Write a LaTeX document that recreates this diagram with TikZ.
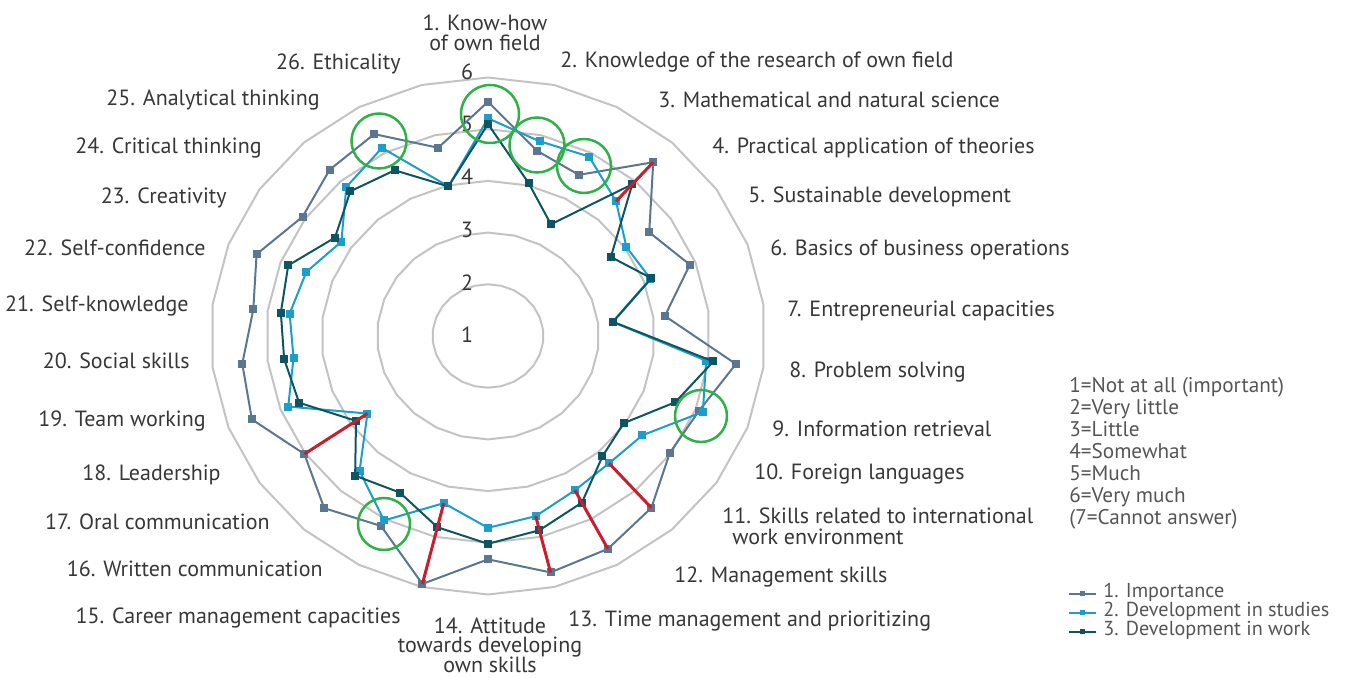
\documentclass[tikz,border=0pt]{standalone}
\usepackage{fontspec}
\usetikzlibrary{calc}
\setmainfont{PT Sans}
\definecolor{ringgray}{RGB}{195,195,195}
\definecolor{cI}{RGB}{90,118,145}
\definecolor{cS}{RGB}{27,158,201}
\definecolor{cW}{RGB}{13,85,98}
\definecolor{cRed}{RGB}{200,30,45}
\definecolor{cGreen}{RGB}{46,178,72}
\definecolor{labgray}{RGB}{55,55,55}
\definecolor{leggray}{RGB}{85,85,85}
\begin{document}
\begin{tikzpicture}[x=0.5pt,y=-0.5pt,
  ring/.style={draw=ringgray, line width=1pt, line join=round},
  serline/.style={line width=1pt, line join=round},
  mk/.style={rectangle, inner sep=0pt, minimum size=4pt},
  lmk/.style={rectangle, inner sep=0pt, minimum size=2.5pt},
  redl/.style={draw=cRed, line width=1.5pt},
  gcirc/.style={circle, draw=cGreen, line width=1.25pt, inner sep=0pt},
  lab/.style={font=\fontsize{11}{13}\selectfont, text=labgray, inner sep=0pt},
  vlab/.style={font=\fontsize{11}{13}\selectfont, text=labgray, inner sep=0pt},
  leg/.style={font=\fontsize{10.6}{12}\selectfont, text=leggray, inner sep=0pt, anchor=base west},
  legs/.style={font=\fontsize{10.1}{12}\selectfont, text=leggray, inner sep=0pt, anchor=base west},
]
\useasboundingbox (0,0) rectangle (1357,678);

% rings
\foreach \r in {1,...,5}{
  \draw[ring] plot[samples at={0,...,25}] ({488+55.5*\r*cos(90-\x*360/26)},{336-51.7*\r*sin(90-\x*360/26)}) -- cycle;
}

% value labels
\foreach \n in {1,...,6}{
  \node[vlab] (v\n) at (467,{335-52.66*(\n-1)}) {\n};
}

% data
\foreach \s/\vals in {
  I/{5.53,4.69,4.52,5.49,4.53,4.89,4.21,5.50,5.07,4.98,5.44,5.65,5.71,5.32,5.94,5.15,5.45,5.02,5.55,5.46,5.26,5.46,5.06,5.30,5.41,4.75},
  S/{5.21,4.88,4.92,4.48,4.03,4.13,3.26,4.96,5.14,4.38,4.29,4.37,4.59,4.71,4.33,5.03,4.49,3.64,4.85,4.53,4.60,4.50,4.21,4.85,5.11,3.98},
  W/{5.10,4.05,3.44,4.92,3.69,4.15,3.27,5.09,4.61,3.97,4.11,4.64,4.87,5.02,4.81,4.42,4.61,3.89,4.64,4.70,4.76,4.85,4.35,4.74,4.62,3.98}}{
  \foreach \v [count=\k] in \vals {
    \pgfmathsetmacro\t{90-(\k-1)*360/26}
    \coordinate (\s\k) at ({488+55.5*(\v-1)*cos(\t)},{336-51.7*(\v-1)*sin(\t)});
  }
}

\foreach \s/\c in {I/cI,S/cS,W/cW}{
  \draw[serline, draw=\c] (\s1) \foreach \k in {2,...,26}{ -- (\s\k)} -- cycle;
  \foreach \k in {1,...,26}{ \node[mk, fill=\c] (m\s\k) at (\s\k) {}; }
}

% red lines
\foreach \k in {4,11,12,13,15,18}{ \draw[redl] (I\k) -- (S\k); }

% green circles
\node[gcirc, minimum size=29pt]   (g1) at (490,114) {};
\node[gcirc, minimum size=27.5pt] (g2) at (537,145) {};
\node[gcirc, minimum size=27pt]   (g3) at (584,166) {};
\node[gcirc, minimum size=27.5pt] (g4) at (379,141) {};
\node[gcirc, minimum size=26pt]   (g5) at (701,416) {};
\node[gcirc, minimum size=26pt]   (g6) at (384,524) {};

% category labels
\node[lab, anchor=base] (l1a) at (485,30.5) {1. Know-how};
\node[lab, anchor=base] (l1b) at (485,50.5) {of own field};
\node[lab, anchor=base west] (l2) at (560,67.5) {2. Knowledge of the research of own field};
\node[lab, anchor=base west] (l3) at (658,108) {3. Mathematical and natural science};
\node[lab, anchor=base west] (l4) at (712,154) {4. Practical application of theories};
\node[lab, anchor=base west] (l5) at (748,202.5) {5. Sustainable development};
\node[lab, anchor=base west] (l6) at (770,255.5) {6. Basics of business operations};
\node[lab, anchor=base west] (l7) at (787,316.5) {7. Entrepreneurial capacities};
\node[lab, anchor=base west] (l8) at (789,377.5) {8. Problem solving};
\node[lab, anchor=base west] (l9) at (772,436.5) {9. Information retrieval};
\node[lab, anchor=base west] (l10) at (754,480) {10. Foreign languages};
\node[lab, anchor=base west] (l11a) at (722,523.5) {11. Skills related to international};
\node[lab, anchor=base west] (l11b) at (732,544.5) {work environment};
\node[lab, anchor=base west] (l12) at (674,583) {12. Management skills};
\node[lab, anchor=base west] (l13) at (568,627) {13. Time management and prioritizing};
\node[lab, anchor=base] (l14a) at (490,633.5) {14. Attitude};
\node[lab, anchor=base] (l14b) at (490,653) {towards developing};
\node[lab, anchor=base] (l14c) at (490,672.5) {own skills};
\node[lab, anchor=base east] (l15) at (401,623.5) {15. Career management capacities};
\node[lab, anchor=base east] (l16) at (323,577) {16. Written communication};
\node[lab, anchor=base east] (l17) at (270,530) {17. Oral communication};
\node[lab, anchor=base east] (l18) at (221,480.5) {18. Leadership};
\node[lab, anchor=base east] (l19) at (206,426.5) {19. Team working};
\node[lab, anchor=base east] (l20) at (190,368.5) {20. Social skills};
\node[lab, anchor=base east] (l21) at (189,311.5) {21. Self-knowledge};
\node[lab, anchor=base east] (l22) at (206,255.5) {22. Self-confidence};
\node[lab, anchor=base east] (l23) at (227,203.5) {23. Creativity};
\node[lab, anchor=base east] (l24) at (262,153.5) {24. Critical thinking};
\node[lab, anchor=base east] (l25) at (320,106) {25. Analytical thinking};
\node[lab, anchor=base east] (l26) at (401,69.3) {26. Ethicality};

% legend scale
\node[leg] (s1) at (1069,392.5) {1=Not at all (important)};
\node[leg] (s2) at (1069,414.5) {2=Very little};
\node[leg] (s3) at (1069,436.5) {3=Little};
\node[leg] (s4) at (1069,458.5) {4=Somewhat};
\node[leg] (s5) at (1069,480.5) {5=Much};
\node[leg] (s6) at (1069,502.5) {6=Very much};
\node[leg] (s7) at (1069,524.5) {(7=Cannot answer)};

% legend series
\foreach \i/\c/\yy/\txt in {1/cI/598/{1. Importance},2/cS/617/{2. Development in studies},3/cW/636/{3. Development in work}}{
  \coordinate (la\i) at (1069,\yy-4);
  \coordinate (lb\i) at (1096,\yy-4);
  \draw[serline, draw=\c] (la\i) -- (lb\i);
  \node[lmk, fill=\c] (lm\i) at ($(la\i)!0.5!(lb\i)$) {};
  \node[legs] (lt\i) at (1103,\yy) {\txt};
}
\end{tikzpicture}
\end{document}
